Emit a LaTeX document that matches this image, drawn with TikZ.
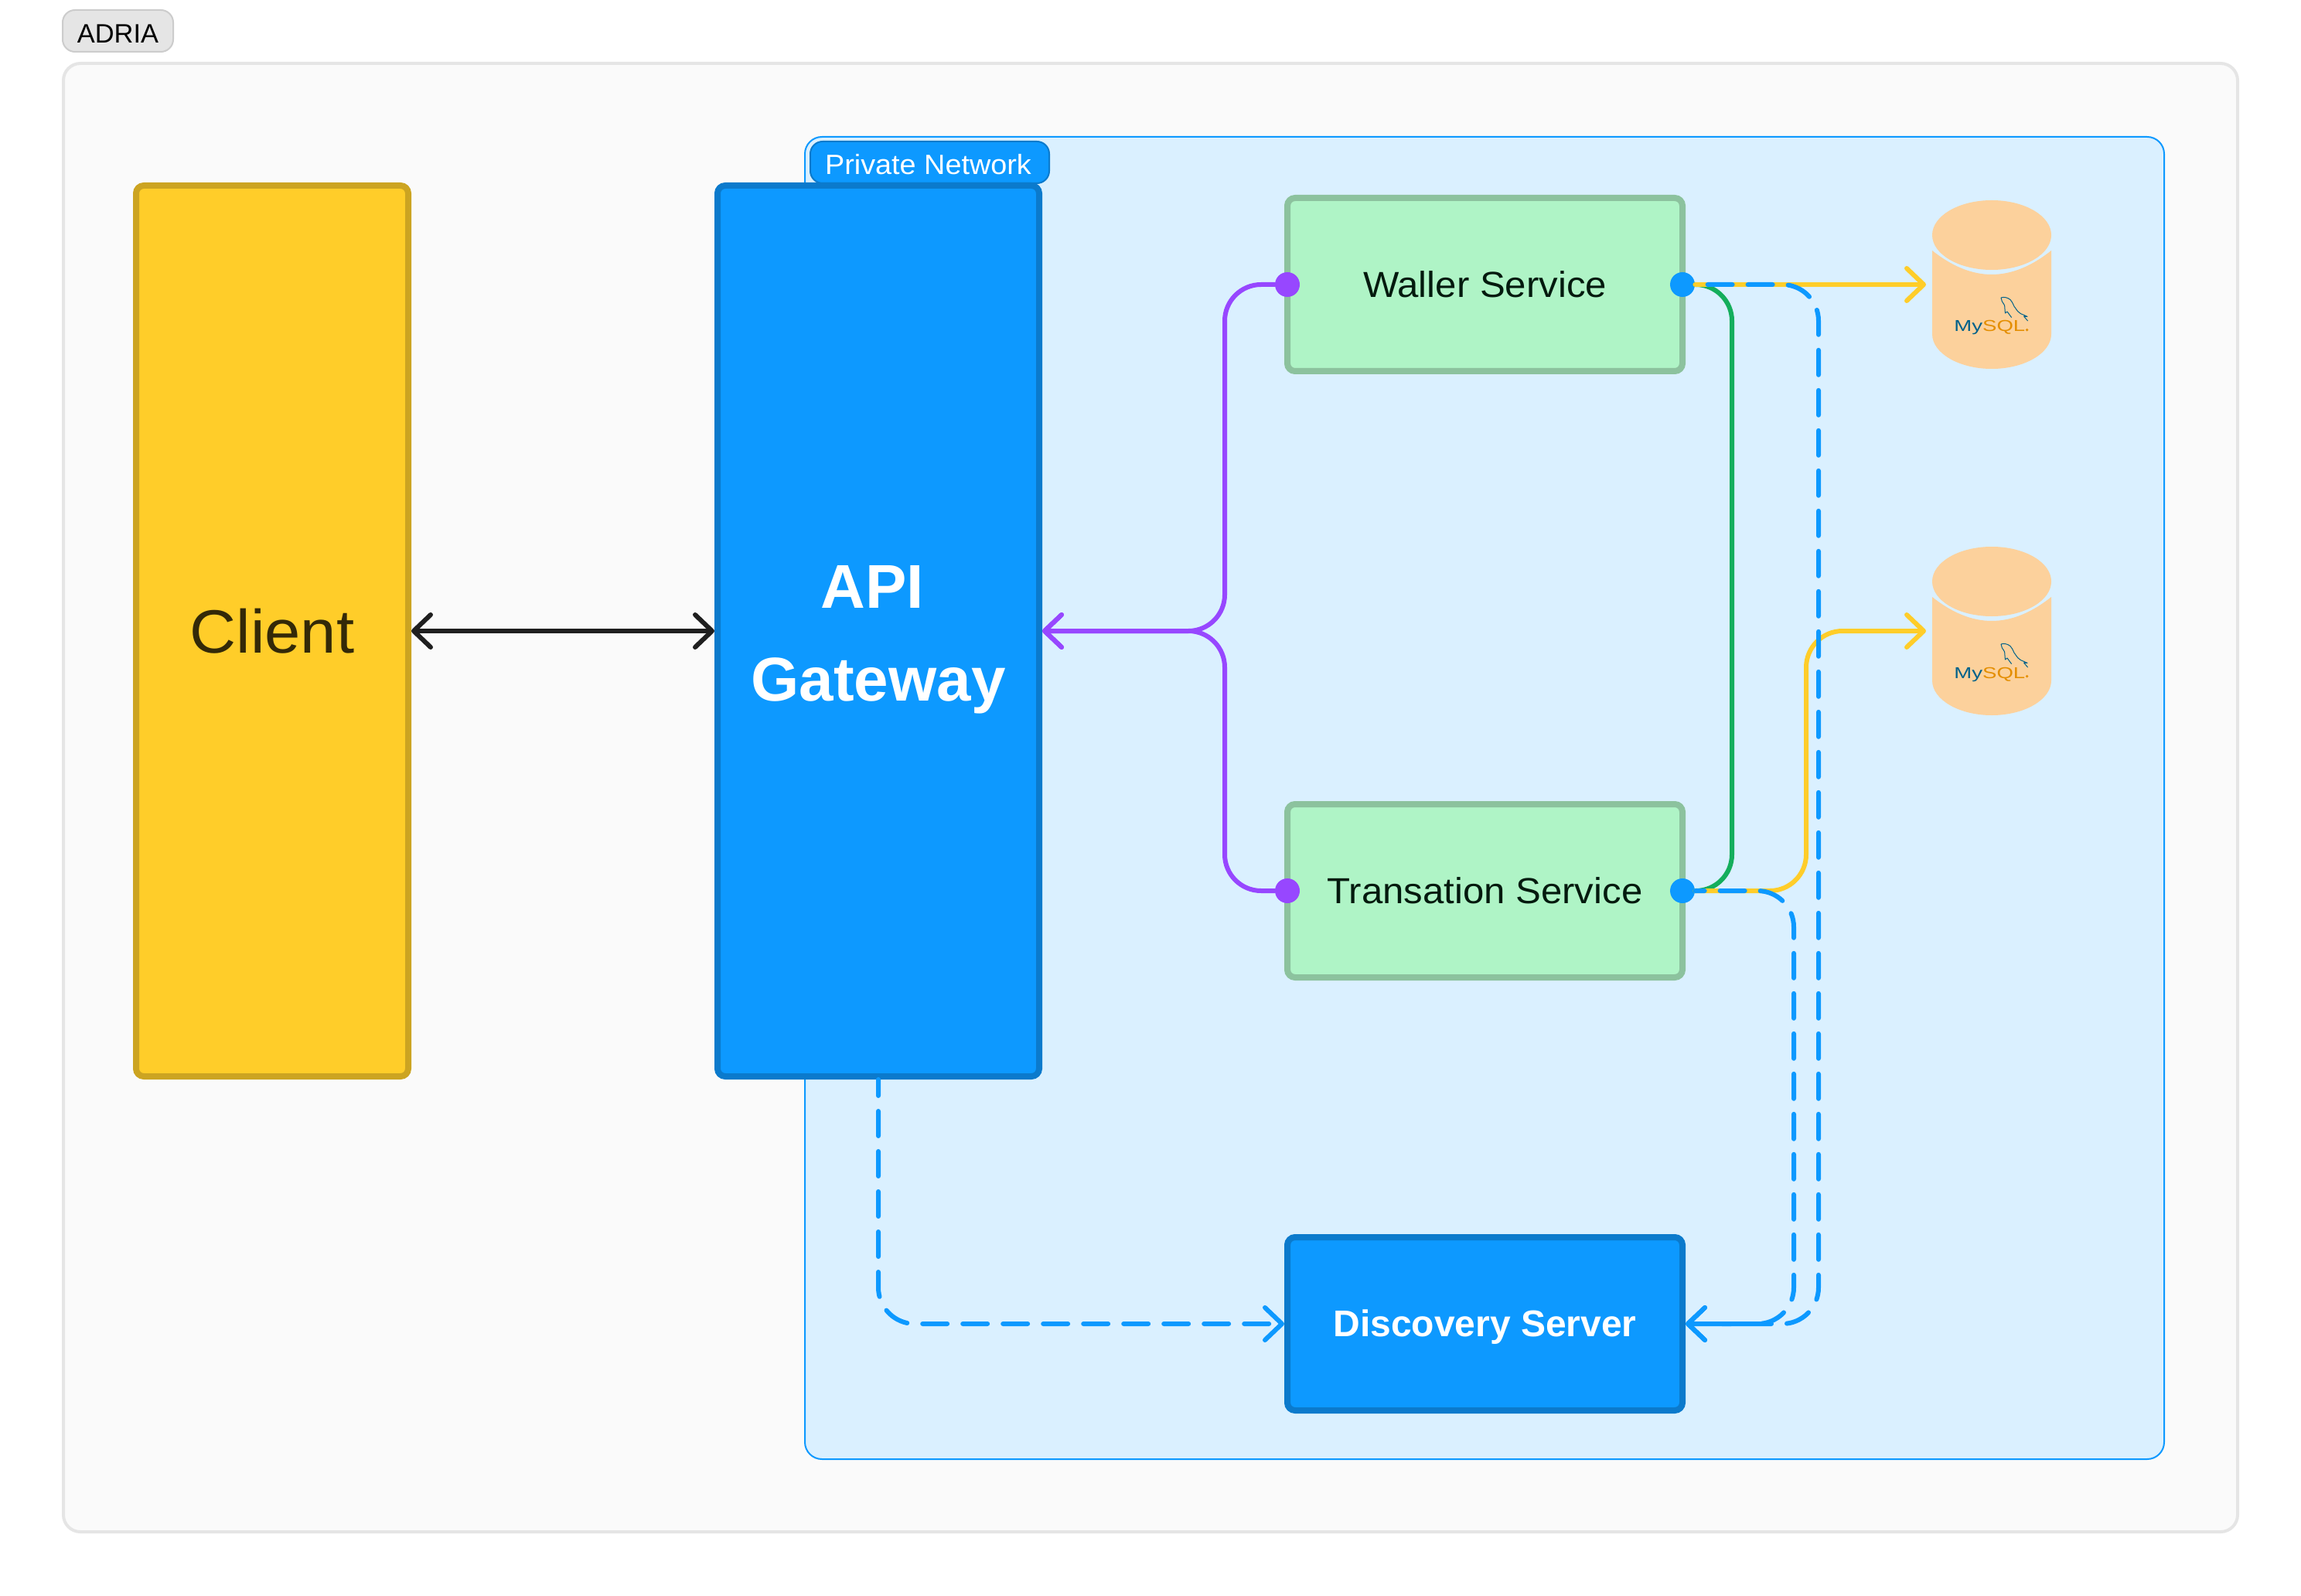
\documentclass[tikz,border=0pt]{standalone}
\usepackage{fontspec}
\usetikzlibrary{positioning}
\usetikzlibrary{arrows.meta}
\setmainfont{Liberation Sans}
\newfontfamily\interlike[FakeStretch=1.05]{Liberation Sans}
\newfontfamily\logofont[FakeStretch=1.35]{Liberation Sans}

\definecolor{figblue}{HTML}{0D99FF}
\definecolor{figblueline}{HTML}{0B7ACC}
\definecolor{figyellow}{HTML}{FFCD29}
\definecolor{figyellowline}{HTML}{CCA421}
\definecolor{figmint}{HTML}{AFF4C6}
\definecolor{figmintline}{HTML}{8CC29E}
\definecolor{figgreen}{HTML}{14AE5C}
\definecolor{figpurple}{HTML}{9747FF}
\definecolor{figsky}{HTML}{DAF0FF}
\definecolor{figorange}{HTML}{FCD19C}
\definecolor{logoblue}{HTML}{00618A}
\definecolor{logoorange}{HTML}{E48E00}

\tikzset{
  box/.style={draw, line width=4pt, rounded corners=5pt, inner sep=0pt, align=center},
  bigbox/.style={box, minimum width=#1, minimum height=576pt},
  service/.style={box, draw=figmintline, fill=figmint, text=black!85!figgreen,
    minimum width=255.5pt, minimum height=112pt, font=\interlike\fontsize{23.4}{28}\selectfont},
  tag/.style={rounded corners=8pt, line width=1pt, inner sep=0pt, minimum height=27pt,
    text height=16pt, text depth=0pt, font=\interlike\fontsize{18}{22}\selectfont},
  port/.style={circle, fill=#1, inner sep=0pt, minimum size=16pt},
  link/.style={line width=3pt, line cap=round, rounded corners=23.5pt},
  bluelink/.style={link, draw=figblue, dash pattern=on 16pt off 10pt},
  mysqlcyl/.pic={
    \fill[figorange] (-38.5,-22) .. controls (-26,-12) and (-13,-6.5) .. (0,-6.5)
      .. controls (13,-6.5) and (26,-12) .. (38.5,-22) -- (38.5,32)
      .. controls (38.5,44.5) and (21,54.5) .. (0,54.5)
      .. controls (-21,54.5) and (-38.5,44.5) .. (-38.5,32) -- cycle;
    \fill[figorange] (0,-32) ellipse [x radius=38.5pt, y radius=22.5pt];
    \draw[logoblue, line width=0.5pt, line join=round]
      (6,8.5) .. controls (8,7.8) and (10.5,8.5) .. (12,9.8)
      .. controls (14,12) and (14,14) .. (15.3,15.2)
      .. controls (16.5,17) and (17.5,18.3) .. (18.7,18.8) -- (23,20.7) -- (20.8,20.6) -- (23.3,23.5)
      (6,8.5) -- (6.7,11) .. controls (7.2,12.3) and (8.2,12.5) .. (8.3,13.5) -- (8.7,18.5) -- (10,17.5) -- (12.8,21.3);
    \node[anchor=base west, inner sep=0pt, font=\logofont\fontsize{10.2}{11}\selectfont, text=logoblue]
      (-logo) at (-24.5,30.5) {My\textcolor{logoorange}{SQL}};
    \fill[logoorange] (22.8,29.3) circle (0.9pt);
    \coordinate (-in) at (-42.5,0);
  }
}

\begin{document}
\begin{tikzpicture}[x=1pt, y=-1pt, >={Straight Barb[length=11pt,width=21pt,round]}]
  \useasboundingbox (0,0) rectangle (1488,1032);
  % Define nodes
  \node[draw=black!10, fill=black!2, line width=2pt, rounded corners=11pt, anchor=north west,
    minimum width=1406pt, minimum height=949.5pt] (adria) at (40,40) {};
  \node[tag, draw=black!20, fill=black!10, text=black, minimum width=71.5pt,
    font=\fontsize{17.2}{22}\selectfont] (adrialabel) at (76.25,20) {ADRIA};
  \node[draw=figblue, fill=figsky, line width=1pt, rounded corners=11pt, anchor=north west,
    minimum width=879pt, minimum height=855pt] (private) at (520,88) {};
  \node[tag, draw=figblueline, fill=figblue, text=white, minimum width=154.5pt] (privatelabel) at (601.25,105) {Private Network\hspace*{2pt}};
  \node[bigbox=176pt, draw=figyellowline, fill=figyellow, text=black!80!figyellow,
    font=\interlike\fontsize{39.6}{48}\selectfont] (client) at (176,408) {Client};
  \node[bigbox=208pt, draw=figblueline, fill=figblue, text=white, right=196pt of client,
    font=\bfseries\fontsize{40}{60}\selectfont] (gateway) {\rule{0pt}{39pt}API\hspace*{8pt}\\Gateway};
  \node[service] (waller) at (960.25,184) {Waller Service};
  \node[service, below=276pt of waller] (transation) {Transation Service};
  \node[box, draw=figblueline, fill=figblue, text=white, minimum width=255.5pt, minimum height=112pt,
    below=164pt of transation, text height=21.5pt, text depth=5pt,
    font=\bfseries\fontsize{24}{28}\selectfont] (discovery) {Discovery Server};
  \pic (dbone) at (1288,184) {mysqlcyl};
  \pic (dbtwo) at (1288,408) {mysqlcyl};
  \node[port=figpurple] (wallerin) at ([xshift=2pt]waller.west) {};
  \node[port=figpurple] (transin) at ([xshift=2pt]transation.west) {};
  \node[port=figblue] (wallerout) at ([xshift=-2pt]waller.east) {};
  \node[port=figblue] (transout) at ([xshift=-2pt]transation.east) {};
  \coordinate (purplebend) at (792,408);
  \coordinate (greenbend) at (1120,380);
  \coordinate (yellowbend) at (1168,408);
  \coordinate (wallerbend) at (1176,856);
  \coordinate (transbend) at (1160,856);
  % Connect nodes
  \draw[<->, line width=3pt, line cap=round, draw=black!88] (client) -- (gateway);
  \draw[->, link, draw=figpurple] (wallerin) -| (purplebend) -- (gateway.east);
  \draw[->, link, draw=figpurple] (transin) -| (purplebend) -- (gateway.east);
  \draw[link, draw=figgreen] (wallerout) -| (greenbend) |- (transout);
  \draw[->, link, draw=figyellow] (wallerout) -- (dbone-in);
  \draw[->, link, draw=figyellow] (transout) -| (yellowbend) -- (dbtwo-in);
  \draw[->, bluelink, dash phase=17.9pt] (wallerout) -| (wallerbend) -- (discovery.east);
  \draw[->, bluelink, dash phase=9.9pt] (transout) -| (transbend) -- (discovery.east);
  \draw[->, bluelink, dash phase=5.5pt] (gateway.south) |- (discovery.west);
\end{tikzpicture}
\end{document}
